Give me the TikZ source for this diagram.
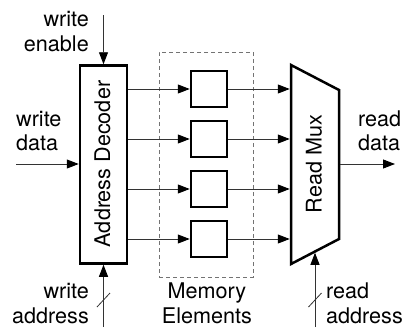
\documentclass[tikz,border=0pt]{standalone}
\usepackage{fontspec}
\setmainfont{TeX Gyre Heros}
\usetikzlibrary{arrows.meta,calc}
\begin{document}
\begin{tikzpicture}[x=1pt,y=-1pt,
  every node/.style={font=\fontsize{21.6}{24.3}\selectfont},
  blk/.style={draw, line width=2.5pt, inner sep=0pt},
  conn/.style={line width=0.9pt, draw=black!80, -{Triangle[length=12pt,width=9pt,color=black]}},
  lbl/.style={inner sep=0pt},
  slash/.style={line width=0.8pt, draw=black!80}]
\useasboundingbox (0,0) rectangle (407,327);
% memory area
\node[draw=black!55, dash pattern=on 4pt off 3pt, line width=0.9pt, minimum width=94pt, minimum height=225pt, inner sep=0pt] (mem) at (206,164.5) {};
% decoder
\node[blk, minimum width=47pt, minimum height=198pt] (dec) at (103.5,164.5) {};
\node[rotate=90, lbl] (dect) at (102.5,164) {Address Decoder};
% memory elements
\node[blk, minimum size=36pt] (m1) at (209,89) {};
\node[blk, minimum size=36pt] (m2) at (209,139) {};
\node[blk, minimum size=36pt] (m3) at (209,189) {};
\node[blk, minimum size=36pt] (m4) at (209,239) {};
% mux
\coordinate (mtl) at (291,65);
\coordinate (mtr) at (339,90);
\coordinate (mbr) at (339,239);
\coordinate (mbl) at (291,264);
\draw[line width=2.5pt, line join=miter] (mtl) -- (mtr) -- (mbr) -- (mbl) -- cycle;
\node[rotate=90, lbl] (muxt) at (314,164) {Read Mux};
% decoder to elements
\foreach \m in {m1,m2,m3,m4}{
  \draw[conn] (dec.east |- \m) -- (\m.west);
  \draw[conn, shorten >=1.25pt] (\m.east) -- (\m.east -| mtl);
}
% inputs / outputs
\coordinate (we) at (103.5,15);
\coordinate (wd) at (16,164);
\coordinate (wa) at (103.5,327);
\coordinate (mr) at (339,164);
\coordinate (rd) at (395,164);
\coordinate (ra) at (315,327);
\coordinate (mb) at ($(mbl)!0.5!(mbr)$);
\draw[conn] (we) -- (dec.north);
\draw[conn] (wd) -- (wd -| dec.west);
\draw[conn] (wa) -- (dec.south);
\draw[conn, shorten <=1.25pt] (mr) -- (rd);
\draw[conn, shorten >=1.25pt] (ra) -- (mb);
% bus slashes
\draw[slash] ($(wa)+(-6.5,-20)$) -- ($(wa)+(6.5,-34)$);
\draw[slash] ($(ra)+(-6.5,-20)$) -- ($(ra)+(6.5,-34)$);
% labels
\node[lbl, anchor=base east, align=right] (lwe) at (89,51) {write\\enable};
\node[lbl, anchor=base west, align=left] (lwd) at (16,150.5) {write\\data};
\node[lbl, anchor=base east, align=right] (lwa) at (89,323) {write\\address};
\node[lbl, anchor=base, align=center] (lme) at (207,323) {Memory\\Elements};
\node[lbl, anchor=base west, align=left] (lrd) at (358,150.5) {read\\data};
\node[lbl, anchor=base west, align=left] (lra) at (326,323) {read\\address};
\end{tikzpicture}
\end{document}
